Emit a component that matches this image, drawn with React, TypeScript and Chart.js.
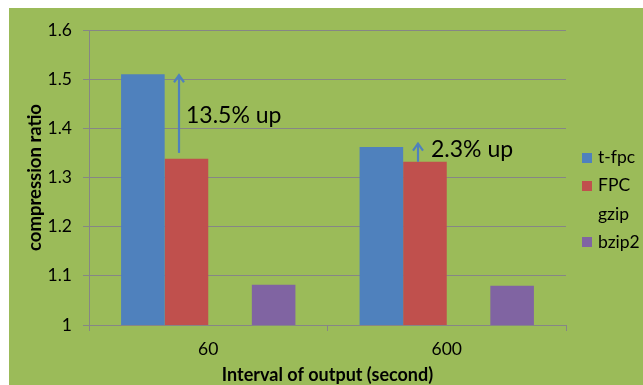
import React, { useEffect, useRef } from "react";
import { Chart, registerables } from "chart.js";

Chart.register(...registerables);

// ---- data ----
const categories = ["60", "600"];
const seriesNames = ["t-fpc", "FPC", "gzip", "bzip2"];
const tfpcValues = [1.51, 1.362];
const fpcValues = [1.338, 1.332];
const gzipValues: (number | null)[] = [null, null];
const bzip2Values = [1.082, 1.08];
const seriesColors = ["#4F81BD", "#C0504D", "rgba(0,0,0,0)", "#8064A2"];

const yMin = 1;
const yMax = 1.6;
const yStep = 0.1;

// annotation arrows (value-based)
const arrowCategory = [0, 1];
const arrowFrom = [1.35, 1.332];
const arrowTo = [1.51, 1.371];
const arrowLabels = ["13.5% up", "2.3% up"];
const arrowLabelValue = [1.425, 1.357];

// ---- styles ----
const BG = "#9BBB59";
const GRID = "#868686";
const FONT = "Lato, 'Open Sans', sans-serif";

const annotationPlugin = {
  id: "arrowNotes",
  afterDatasetsDraw(chart: any) {
    const { ctx, scales } = chart;
    const x = scales.x;
    const y = scales.y;
    const catW = x.getPixelForValue(1) - x.getPixelForValue(0);
    const dx = [-0.122, -0.12];
    const textDx = [7, 13];
    arrowCategory.forEach((c, i) => {
      const px = Math.round(x.getPixelForValue(c) + dx[i] * catW);
      const y0 = y.getPixelForValue(arrowFrom[i]);
      const y1 = y.getPixelForValue(arrowTo[i]);
      ctx.save();
      ctx.strokeStyle = "#4F81BD";
      ctx.lineWidth = 2.2;
      ctx.lineCap = "butt";
      ctx.beginPath();
      ctx.moveTo(px, y0);
      ctx.lineTo(px, y1 + 1);
      ctx.stroke();
      ctx.lineJoin = "miter";
      ctx.beginPath();
      ctx.moveTo(px - 5, y1 + 8);
      ctx.lineTo(px, y1 + 1);
      ctx.lineTo(px + 5, y1 + 8);
      ctx.stroke();
      ctx.fillStyle = "#000";
      ctx.font = `23px ${FONT}`;
      ctx.textAlign = "left";
      ctx.textBaseline = "middle";
      ctx.fillText(arrowLabels[i], px + textDx[i], y.getPixelForValue(arrowLabelValue[i]));
      ctx.restore();
    });
  },
};

const legendPlugin = {
  id: "sideLegend",
  afterDraw(chart: any) {
    const { ctx, chartArea } = chart;
    const x0 = chartArea.right + 16;
    const rowGap = 28.3;
    const centerY = (chartArea.top + chartArea.bottom) / 2 + 22.5;
    const n = chart.data.datasets.length;
    const startY = centerY - ((n - 1) * rowGap) / 2;
    ctx.save();
    ctx.font = `17.5px ${FONT}`;
    ctx.textBaseline = "middle";
    ctx.textAlign = "left";
    chart.data.datasets.forEach((ds: any, i: number) => {
      const cy = startY + i * rowGap;
      ctx.fillStyle = ds.backgroundColor;
      ctx.fillRect(x0, Math.round(cy - 5), 10, 10);
      ctx.fillStyle = "#000";
      ctx.fillText(ds.label, x0 + 16, cy);
    });
    ctx.restore();
  },
};

export default function App() {
  const ref = useRef<HTMLCanvasElement | null>(null);

  useEffect(() => {
    if (!ref.current) return;
    const values = [tfpcValues, fpcValues, gzipValues, bzip2Values];
    const chart = new Chart(ref.current, {
      type: "bar",
      data: {
        labels: categories,
        datasets: seriesNames.map((name, i) => ({
          label: name,
          data: values[i] as any,
          backgroundColor: seriesColors[i],
          borderWidth: 0,
          categoryPercentage: 0.731,
          barPercentage: 1,
        })),
      },
      options: {
        animation: false,
        responsive: false,
        layout: { padding: { top: 22, right: 77, left: 0, bottom: 0 } },
        plugins: {
          legend: { display: false },
          tooltip: { enabled: false },
        },
        scales: {
          x: {
            afterFit: (s: any) => {
              s.height = 60;
            },
            grid: {
              display: true,
              drawOnChartArea: false,
              drawTicks: true,
              tickLength: 6,
              color: GRID,
            },
            border: { display: true, color: GRID },
            ticks: {
              color: "#000",
              padding: 8,
              font: { family: FONT, size: 17.5 },
            },
            title: {
              display: true,
              text: "Interval of output (second)",
              color: "#000",
              font: { family: FONT, size: 18, weight: "bold", lineHeight: 1 },
              padding: { top: 0, bottom: 0.5 },
            },
          },
          y: {
            min: yMin,
            max: yMax,
            afterFit: (s: any) => {
              s.width = 80;
            },
            grid: {
              color: GRID,
              tickLength: 6,
              drawTicks: true,
            },
            border: { display: true, color: GRID },
            ticks: {
              stepSize: yStep,
              color: "#000",
              padding: 11,
              font: { family: FONT, size: 17.5 },
              callback: (v: any) => String(+Number(v).toFixed(2)),
            },
            title: {
              display: true,
              text: "compression ratio",
              color: "#000",
              font: { family: FONT, size: 18.5, weight: "bold", lineHeight: 1.2 },
              padding: { top: 15, bottom: 0 },
            },
          },
        },
      },
      plugins: [annotationPlugin, legendPlugin],
    });
    return () => chart.destroy();
  }, []);

  return (
    <div
      style={{
        position: "fixed",
        left: 9,
        top: 8,
        width: 634,
        height: 377,
        background: BG,
      }}
    >
      <canvas ref={ref} width={634} height={377} style={{ display: "block" }} />
    </div>
  );
}
